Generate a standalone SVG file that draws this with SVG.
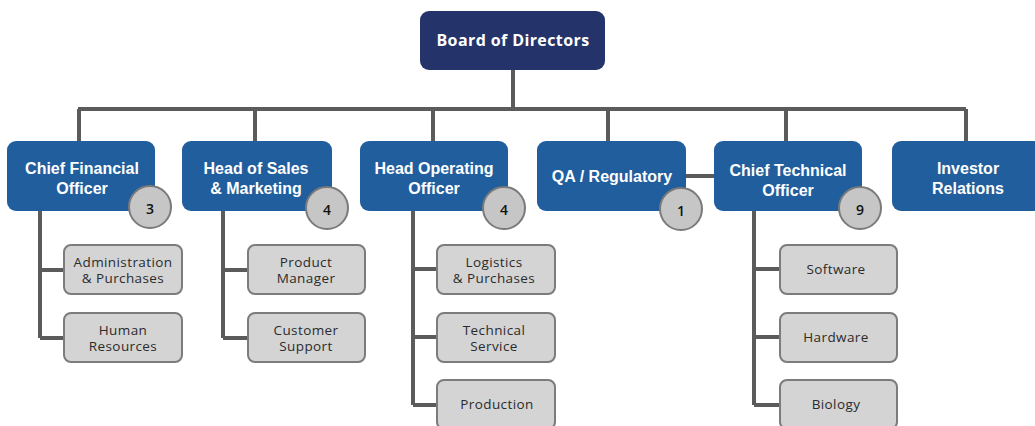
<svg xmlns="http://www.w3.org/2000/svg" width="1035" height="426" viewBox="0 0 1035 426">
  <style>
    .board { fill: #24346a; }
    .lead { fill: #215e9d; }
    .sub { fill: #d4d4d4; stroke: #7c7c7c; stroke-width: 2; }
    .badge { fill: #c6c6c6; stroke: #7a7a7a; stroke-width: 2; }
    .wire { fill: none; stroke: #5b5b5b; stroke-width: 4; }
    .t-board { font-family: "Open Sans", "Liberation Sans", sans-serif; font-weight: 700; font-size: 16px; letter-spacing: 0.4px; fill: #ffffff; text-anchor: middle; dominant-baseline: central; }
    .t-lead { font-family: "Liberation Sans", Arial, sans-serif; font-weight: 700; font-size: 16px; fill: #ffffff; text-anchor: middle; dominant-baseline: central; }
    .t-sub { font-family: "Open Sans", "Liberation Sans", sans-serif; font-size: 13.5px; letter-spacing: 0.4px; fill: #2b2b2b; text-anchor: middle; dominant-baseline: central; }
    .t-badge { font-family: "Open Sans", "Liberation Sans", sans-serif; font-weight: 600; font-size: 14px; fill: #111111; text-anchor: middle; dominant-baseline: central; }
  </style>

  <!-- connectors -->
  <g id="connectors" class="wire">
    <path d="M513 70 V109"/>
    <path d="M78 109 H966"/>
    <path d="M79 109 V141 M255 109 V141 M433 109 V141 M608 109 V141 M786 109 V141 M966 109 V141"/>
    <path d="M686 176 H714"/>
    <!-- CFO reports -->
    <path d="M40 211 V338 M40 270 H64 M40 338 H64"/>
    <!-- Sales reports -->
    <path d="M223 211 V338 M223 270 H248 M223 338 H248"/>
    <!-- Operations reports -->
    <path d="M413 211 V405 M413 269 H437 M413 337 H437 M413 405 H437"/>
    <!-- Technical reports -->
    <path d="M754 211 V405 M754 269 H780 M754 337 H780 M754 405 H780"/>
  </g>

  <g id="board">
    <rect class="board" x="420" y="11" width="185" height="59" rx="9"/>
    <text class="t-board" x="513" y="40">Board of Directors</text>
  </g>

  <g id="cfo">
    <rect class="lead" x="7" y="141" width="148" height="70" rx="9"/>
    <text class="t-lead" x="82" y="168">Chief Financial</text>
    <text class="t-lead" x="82" y="188">Officer</text>
    <circle class="badge" cx="150" cy="207" r="21"/>
    <text class="t-badge" x="150" y="208">3</text>
  </g>

  <g id="sales">
    <rect class="lead" x="182" y="141" width="150" height="70" rx="9"/>
    <text class="t-lead" x="256" y="168">Head of Sales</text>
    <text class="t-lead" x="256" y="188">&amp; Marketing</text>
    <circle class="badge" cx="327" cy="208" r="21"/>
    <text class="t-badge" x="327" y="209">4</text>
  </g>

  <g id="operations">
    <rect class="lead" x="360" y="141" width="148" height="70" rx="9"/>
    <text class="t-lead" x="434" y="168">Head Operating</text>
    <text class="t-lead" x="434" y="188">Officer</text>
    <circle class="badge" cx="504" cy="208" r="21"/>
    <text class="t-badge" x="504" y="209">4</text>
  </g>

  <g id="qa">
    <rect class="lead" x="537" y="141" width="149" height="70" rx="9"/>
    <text class="t-lead" x="612" y="176">QA / Regulatory</text>
    <circle class="badge" cx="681" cy="209" r="21"/>
    <text class="t-badge" x="681" y="210">1</text>
  </g>

  <g id="cto">
    <rect class="lead" x="714" y="141" width="148" height="70" rx="9"/>
    <text class="t-lead" x="788" y="170">Chief Technical</text>
    <text class="t-lead" x="788" y="190">Officer</text>
    <circle class="badge" cx="860" cy="208" r="21"/>
    <text class="t-badge" x="860" y="209">9</text>
  </g>

  <g id="investor">
    <rect class="lead" x="892" y="141" width="152" height="70" rx="9"/>
    <text class="t-lead" x="968" y="168">Investor</text>
    <text class="t-lead" x="968" y="188">Relations</text>
  </g>

  <g id="admin">
    <rect class="sub" x="64" y="245" width="118" height="49" rx="7"/>
    <text class="t-sub" x="123" y="262">Administration</text>
    <text class="t-sub" x="123" y="278">&amp; Purchases</text>
  </g>
  <g id="hr">
    <rect class="sub" x="64" y="313" width="118" height="49" rx="7"/>
    <text class="t-sub" x="123" y="330">Human</text>
    <text class="t-sub" x="123" y="346">Resources</text>
  </g>

  <g id="product-manager">
    <rect class="sub" x="248" y="245" width="117" height="49" rx="7"/>
    <text class="t-sub" x="306" y="262">Product</text>
    <text class="t-sub" x="306" y="278">Manager</text>
  </g>
  <g id="customer-support">
    <rect class="sub" x="248" y="313" width="117" height="49" rx="7"/>
    <text class="t-sub" x="306" y="330">Customer</text>
    <text class="t-sub" x="306" y="346">Support</text>
  </g>

  <g id="logistics">
    <rect class="sub" x="437" y="245" width="118" height="49" rx="7"/>
    <text class="t-sub" x="494" y="262">Logistics</text>
    <text class="t-sub" x="494" y="278">&amp; Purchases</text>
  </g>
  <g id="technical-service">
    <rect class="sub" x="437" y="313" width="118" height="49" rx="7"/>
    <text class="t-sub" x="494" y="330">Technical</text>
    <text class="t-sub" x="494" y="346">Service</text>
  </g>
  <g id="production">
    <rect class="sub" x="437" y="380" width="118" height="49" rx="7"/>
    <text class="t-sub" x="497" y="404">Production</text>
  </g>

  <g id="software">
    <rect class="sub" x="780" y="245" width="117" height="49" rx="7"/>
    <text class="t-sub" x="836" y="269">Software</text>
  </g>
  <g id="hardware">
    <rect class="sub" x="780" y="313" width="117" height="49" rx="7"/>
    <text class="t-sub" x="836" y="337">Hardware</text>
  </g>
  <g id="biology">
    <rect class="sub" x="780" y="380" width="117" height="49" rx="7"/>
    <text class="t-sub" x="836" y="404">Biology</text>
  </g>
</svg>
